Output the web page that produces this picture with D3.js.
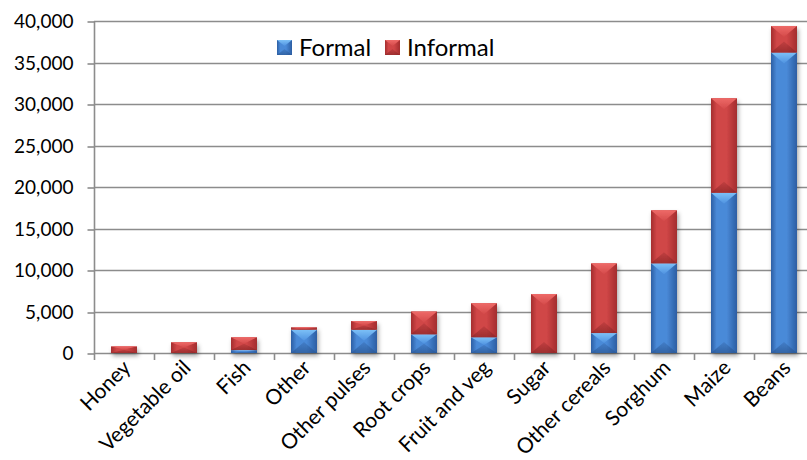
<!DOCTYPE html>
<html>
<head>
<meta charset="utf-8">
<script src="https://cdn.jsdelivr.net/npm/d3@7"></script>
<style>
  html, body { margin: 0; padding: 0; background: #fff; }
  svg { display: block; }
  text { font-family: Lato, "Open Sans", sans-serif; fill: #000; }
</style>
</head>
<body>
<svg id="chart" width="807" height="460"></svg>
<script>
// Trade volume by commodity, split into formal and informal channels
const categories = ["Honey", "Vegetable oil", "Fish", "Other", "Other pulses", "Root crops",
  "Fruit and veg", "Sugar", "Other cereals", "Sorghum", "Maize", "Beans"];
const formal   = [0, 0, 350, 2800, 2800, 2250, 1900, 0, 2400, 10800, 19300, 36200];
const informal = [800, 1300, 1550, 300, 1050, 2750, 4100, 7100, 8400, 6400, 11400, 3200];
const yTicks = [0, 5000, 10000, 15000, 20000, 25000, 30000, 35000, 40000];
const seriesNames = ["Formal", "Informal"];

const palette = {
  Formal:   { edge: "#2c5ea3", mid: "#4a8ad8", light: "#7cc0f7", lightEnd: "#4f92e0", dark: "#2a5896" },
  Informal: { edge: "#a32d2e", mid: "#d04647", light: "#ee6a68", lightEnd: "#d44a4a", dark: "#8e2728" }
};

const svg = d3.select("#chart");
const plotLeft = 94, plotRight = 814, plotTop = 21, plotBottom = 353;

const x = d3.scaleBand().domain(categories).range([plotLeft, plotRight])
  .paddingInner(0.567).paddingOuter(0.2835);
const y = d3.scaleLinear().domain([0, 40000]).range([plotBottom, plotTop]);

const rows = categories.map((c, i) => ({ category: c, Formal: formal[i], Informal: informal[i] }));
const stacked = d3.stack().keys(seriesNames)(rows);

const defs = svg.append("defs");
const shadow = defs.append("filter").attr("id", "shadow")
  .attr("x", "-30%").attr("y", "-10%").attr("width", "170%").attr("height", "130%");
shadow.append("feDropShadow").attr("dx", 1.5).attr("dy", 3).attr("stdDeviation", 2.2)
  .attr("flood-color", "#000").attr("flood-opacity", 0.35);

// Horizontal face gradients and bevel gradients per series
seriesNames.forEach(name => {
  const p = palette[name];
  const g = defs.append("linearGradient").attr("id", "face-" + name)
    .attr("x1", 0).attr("x2", 1).attr("y1", 0).attr("y2", 0);
  g.append("stop").attr("offset", "0%").attr("stop-color", p.edge);
  g.append("stop").attr("offset", "22%").attr("stop-color", p.mid);
  g.append("stop").attr("offset", "60%").attr("stop-color", p.mid);
  g.append("stop").attr("offset", "100%").attr("stop-color", p.edge);
  const t = defs.append("linearGradient").attr("id", "top-" + name)
    .attr("x1", 0).attr("x2", 0).attr("y1", 0).attr("y2", 1);
  t.append("stop").attr("offset", "0%").attr("stop-color", p.light);
  t.append("stop").attr("offset", "100%").attr("stop-color", p.lightEnd);
  const bt = defs.append("linearGradient").attr("id", "bot-" + name)
    .attr("x1", 0).attr("x2", 0).attr("y1", 1).attr("y2", 0);
  bt.append("stop").attr("offset", "0%").attr("stop-color", p.dark).attr("stop-opacity", 0.75);
  bt.append("stop").attr("offset", "100%").attr("stop-color", p.dark).attr("stop-opacity", 0.25);
});

// Gridlines
svg.append("g").selectAll("line").data(yTicks).join("line")
  .attr("x1", plotLeft).attr("x2", plotRight)
  .attr("y1", d => Math.round(y(d)) + 0.5).attr("y2", d => Math.round(y(d)) + 0.5)
  .attr("stroke", "#8c8c8c").attr("stroke-width", 1.6);

// Y axis
const yAxis = svg.append("g").attr("transform", `translate(${plotLeft + 0.5},0)`)
  .call(d3.axisLeft(y).tickValues(yTicks).tickSize(7).tickPadding(14)
    .tickFormat(d3.format(",")));
yAxis.select(".domain").attr("stroke", "#8c8c8c").attr("stroke-width", 1.6)
  .attr("d", `M0,${plotTop}V${plotBottom + 0.5}`);
yAxis.selectAll(".tick line").attr("stroke", "#8c8c8c").attr("stroke-width", 1.6)
  .attr("transform", d => `translate(0,${Math.round(y(d)) + 0.5 - y(d)})`);
yAxis.selectAll(".tick text").style("font-family", "Lato, sans-serif").style("font-size", "19px")
  .attr("fill", "#000").attr("dy", "0.35em");

// X axis ticks at category boundaries
const boundaries = d3.range(categories.length + 1).map(i => plotLeft + i * x.step());
svg.append("g").selectAll("line").data(boundaries).join("line")
  .attr("x1", d => Math.round(d) + 0.5).attr("x2", d => Math.round(d) + 0.5)
  .attr("y1", plotBottom).attr("y2", plotBottom + 7)
  .attr("stroke", "#8c8c8c").attr("stroke-width", 1.6);

// Bevelled segment: shaded face, light top facet, darker bottom facet
function bevel(g, x0, x1, y0, y1, name, maxD) {
  const h = y1 - y0;
  if (h <= 0) return;
  const d = Math.min(maxD, h / 2);
  const cx = (x0 + x1) / 2;
  g.append("rect").attr("x", x0).attr("y", y0).attr("width", x1 - x0).attr("height", h)
    .attr("fill", `url(#face-${name})`);
  g.append("polygon").attr("points", [[x0, y1], [x1, y1], [cx, y1 - d]].join(" "))
    .attr("fill", `url(#bot-${name})`);
  g.append("polygon").attr("points", [[x0, y0], [x1, y0], [cx, y0 + d]].join(" "))
    .attr("fill", `url(#top-${name})`);
}

// Stacked bars
const bars = svg.append("g").attr("filter", "url(#shadow)");
stacked.forEach(series => {
  series.forEach((d, i) => {
    const x0 = x(categories[i]), x1 = x0 + x.bandwidth();
    bevel(bars, x0, x1, y(d[1]), y(d[0]), series.key, 11);
  });
});

// Category labels
svg.append("g").selectAll("text").data(categories).join("text")
  .attr("transform", d => `translate(${x(d) + x.bandwidth() / 2 + 8},${plotBottom + 16}) rotate(-45)`)
  .attr("text-anchor", "end")
  .style("font-size", "21px")
  .text(d => d);

// Legend
const legendItems = [
  { name: "Formal", x: 277 },
  { name: "Informal", x: 385 }
];
const legend = svg.append("g");
legendItems.forEach(it => {
  bevel(legend.append("g"), it.x, it.x + 15, 40, 55, it.name, 6);
  legend.append("text").attr("x", it.x + 22).attr("y", 47.5).attr("dy", "0.36em")
    .style("font-size", "24px").text(it.name);
});
</script>
</body>
</html>
